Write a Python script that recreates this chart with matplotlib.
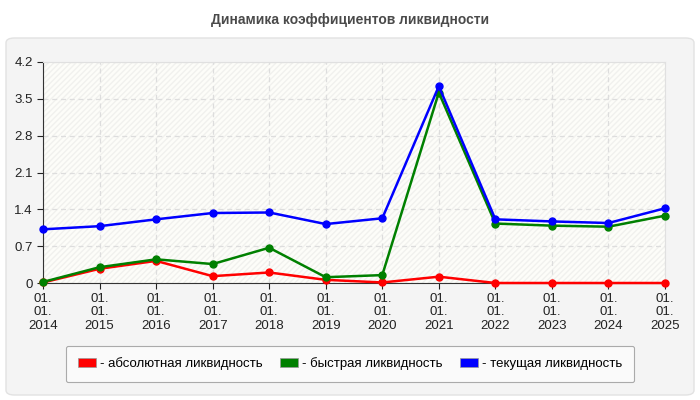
import numpy as np
import matplotlib
matplotlib.use("Agg")
import matplotlib.pyplot as plt
from matplotlib.patches import FancyBboxPatch, Rectangle, Patch

plt.rcParams['font.family'] = ['Liberation Sans', 'DejaVu Sans']

# %% Daten
years = ["2014", "2015", "2016", "2017", "2018", "2019",
         "2020", "2021", "2022", "2023", "2024", "2025"]
absolute = [0.01, 0.27, 0.42, 0.13, 0.20, 0.06, 0.01, 0.12, 0.0, 0.0, 0.0, 0.0]
quick = [0.02, 0.30, 0.45, 0.36, 0.67, 0.11, 0.15, 3.62, 1.13, 1.09, 1.07, 1.28]
current = [1.02, 1.08, 1.21, 1.33, 1.34, 1.12, 1.23, 3.74, 1.21, 1.17, 1.14, 1.42]
yticks = [0, 0.7, 1.4, 2.1, 2.8, 3.5, 4.2]
series_names = ["- абсолютная ликвидность", "- быстрая ликвидность", "- текущая ликвидность"]
series_colors = ["#ff0000", "#008000", "#0000ff"]

# %% Figur
fig = plt.figure(figsize=(7, 4), dpi=100)
fig.patch.set_facecolor("white")

# grauer Rahmen
panel = FancyBboxPatch((6 / 700, 5 / 400), 688 / 700, 357 / 400,
                       boxstyle="round,pad=0,rounding_size=0.012",
                       transform=fig.transFigure, facecolor="#f4f4f4",
                       edgecolor="#e2e2e2", lw=1, zorder=-5)
fig.patches.append(panel)

fig.text(0.5, 1 - 20 / 400, "Динамика коэффициентов ликвидности",
         ha="center", va="center", fontsize=10, fontweight="bold", color="#4a4a4a")

ax = fig.add_axes([43 / 700, 117 / 400, 622 / 700, 221 / 400])
ax.set_zorder(1)
ax.set_facecolor("#fdfdf9")
ax.add_patch(Rectangle((0, 0), 1, 1, transform=ax.transAxes, facecolor="none",
                       edgecolor="#f1f1ee", hatch="//////", lw=0, zorder=0))

x = np.arange(len(years))
for vals, col in zip([absolute, quick, current], series_colors):
    ax.plot(x, vals, color=col, lw=1.8, marker="o", markersize=5, zorder=3, clip_on=False)

ax.set_xlim(0, len(years) - 1)
ax.set_ylim(0, 4.2)
ax.set_yticks(yticks)
ax.set_yticklabels(["0" if v == 0 else f"{v:.1f}" for v in yticks])
ax.set_xticks(x)
ax.set_xticklabels(["01.\n01.\n" + y for y in years], linespacing=1.12)
ax.tick_params(axis="both", labelsize=9.5, colors="#222222", length=4)

ax.grid(True, color="#dddddd", linestyle=(0, (4, 3)), lw=0.9)
for s in ["top", "right"]:
    ax.spines[s].set_color("#e0e0e0")
for s in ["left", "bottom"]:
    ax.spines[s].set_color("#333333")

handles = [Patch(facecolor=c, edgecolor="#999999", lw=0.5) for c in series_colors]
leg = fig.legend(handles, series_names, loc="center", ncol=3,
                 bbox_to_anchor=(350 / 700, 1 - 364 / 400), fontsize=9.5,
                 frameon=True, fancybox=True, edgecolor="#aaaaaa",
                 facecolor="#fafafa", framealpha=1,
                 handlelength=1.4, handleheight=0.7, handletextpad=0.3,
                 columnspacing=1.3, borderpad=0.9)
leg.get_frame().set_linewidth(0.8)

fig.savefig("out.png", dpi=100)
